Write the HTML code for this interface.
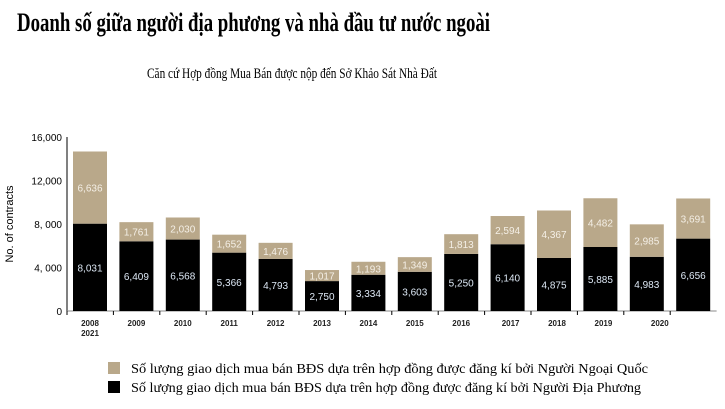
<!DOCTYPE html>
<html><head><meta charset="utf-8"><style>
body{margin:0;background:#fff;width:725px;height:409px;overflow:hidden}
svg{display:block}
</style></head><body>
<svg id="c" width="725" height="409">
<text x="17" y="31" font-family="Liberation Serif, serif" font-weight="bold" font-size="26" textLength="473" lengthAdjust="spacingAndGlyphs">Doanh số giữa người địa phương và nhà đầu tư nước ngoài</text>
<text x="147" y="78" font-family="Liberation Serif, serif" font-size="15" textLength="290" lengthAdjust="spacingAndGlyphs">Căn cứ Hợp đồng Mua Bán được nộp đến Sở Khảo Sát Nhà Đất</text>
<text transform="translate(13,224) rotate(-90)" text-anchor="middle" font-family="Liberation Sans, sans-serif" font-size="11">No. of contracts</text>
<g id="plot"></g>
<rect x="108" y="362" width="12" height="12" fill="#b9a88a"/>
<text x="131" y="373" font-family="Liberation Serif, serif" font-size="13.5" textLength="517" lengthAdjust="spacingAndGlyphs">Số lượng giao dịch mua bán BĐS dựa trên hợp đồng được đăng kí bởi Người Ngoại Quốc</text>
<rect x="108" y="381" width="12" height="12" fill="#000"/>
<text x="131" y="392" font-family="Liberation Serif, serif" font-size="13.5" textLength="510" lengthAdjust="spacingAndGlyphs">Số lượng giao dịch mua bán BĐS dựa trên hợp đồng được đăng kí bởi Người Địa Phương</text>
</svg>
<script>
const years=["2008","2009","2010","2011","2012","2013","2014","2015","2016","2017","2018","2019","2020","2021"];
const local=[8031,6409,6568,5366,4793,2750,3334,3603,5250,6140,4875,5885,4983,6656];
const foreign=[6636,1761,2030,1652,1476,1017,1193,1349,1813,2594,4367,4482,2985,3691];
const yTicks=[0,4000,8000,12000,16000];
const yTickLabels=["0","4, 000","8, 000","12,000","16,000"];
const NS="http://www.w3.org/2000/svg";
const g=document.getElementById('plot');
const y0=311,y1=137,yMax=16000;
const y=v=>y0-(v/yMax)*(y0-y1);
const step=46.4,x0=67,bw=34;
const xc=i=>x0+23+i*step;
function mk(t,a){const e=document.createElementNS(NS,t);for(const k in a)e.setAttribute(k,a[k]);g.appendChild(e);return e;}
let ax=mk('line',{x1:x0,y1:y1,x2:x0,y2:y0,stroke:'#000','stroke-width':1});


let bx=mk('line',{x1:x0,y1:y0,x2:x0+years.length*step,y2:y0,stroke:'#888','stroke-width':1});


yTicks.forEach((v,i)=>{
 const t=mk('text',{x:x0-5,y:y(v)+4,'text-anchor':'end','font-family':'Liberation Sans, sans-serif','font-size':10});
 t.textContent=yTickLabels[i];
 
 
});
years.forEach((yr,i)=>{
 const cx=xc(i),L=local[i],F=foreign[i];
 const r1=mk('rect',{x:cx-bw/2,y:y(L),width:bw,height:y0-y(L),fill:'#000'});
 
 
 const r2=mk('rect',{x:cx-bw/2,y:y(L+F),width:bw,height:y(L)-y(L+F),fill:'#b9a88a'});
 
 
 const t1=mk('text',{x:cx,y:(y(L)+y0)/2+4,'text-anchor':'middle',fill:'#dde8f5','font-family':'Liberation Sans, sans-serif','font-size':10});
 t1.textContent=L.toLocaleString('en-US');
 
 
 const t2=mk('text',{x:cx,y:(y(L)+y(L+F))/2+4,'text-anchor':'middle',fill:'#f4efe6','font-family':'Liberation Sans, sans-serif','font-size':10});
 t2.textContent=F.toLocaleString('en-US');
 
 
 const tk=mk('line',{x1:x0+i*step,y1:y0,x2:x0+i*step,y2:y0+4,stroke:'#000'});
 
 
 let lx=cx,ly=y0+15;
 if(i===13){lx=xc(0);ly=y0+25;}
 else if(i===12){lx=cx+13;}
 else if(i>=9){lx=cx+3;}
 const xl=mk('text',{x:lx,y:ly,'text-anchor':'middle','font-family':'Liberation Sans, sans-serif','font-size':8,'font-weight':'bold',fill:'#222'});
 xl.textContent=yr;
 
 
});
</script>
</body></html>
